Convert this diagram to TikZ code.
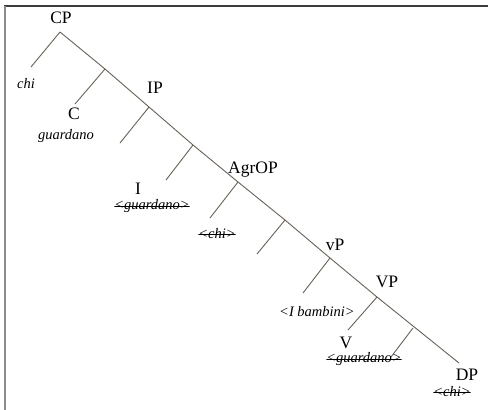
\documentclass[tikz,border=0pt]{standalone}
\usepackage{fontspec}
\setmainfont{Liberation Serif}
\definecolor{branch}{RGB}{105,98,88}
\tikzset{
  br/.style={draw=branch, line width=0.9pt},
  cat/.style={inner sep=0pt, font=\fontsize{17.5}{18}\selectfont},
  word/.style={inner sep=0pt, font=\fontsize{14.5}{15}\selectfont\itshape},
  struck/.style={path picture={\draw[line width=0.7pt] (path picture bounding box.west) -- (path picture bounding box.east);}},
}
\begin{document}
\begin{tikzpicture}[x=1pt,y=-1pt]
\useasboundingbox (0,0) rectangle (488,410);
\fill[white] (0,0) rectangle (488,410);
% frame
\draw[color={rgb,255:red,60;green,60;blue,60}, line width=1.6pt] (4,6) -- (488,6);
\draw[color={rgb,255:red,140;green,140;blue,140}, line width=2pt] (4.5,6) -- (4.5,410);
% spine
\coordinate (p0) at (60,32);
\coordinate (p1) at (105,69);
\coordinate (p2) at (149,107);
\coordinate (p3) at (193,145);
\coordinate (p4) at (238,182);
\coordinate (p5) at (285,220);
\coordinate (p6) at (330,258);
\coordinate (p7) at (377,297);
\coordinate (p8) at (459,363);
% branch ends
\coordinate (b0) at (31,67);
\coordinate (b1) at (75,104);
\coordinate (b2) at (120,143);
\coordinate (b3) at (166,180);
\coordinate (b4) at (210,218);
\coordinate (b5) at (257,254);
\coordinate (b6) at (303,293);
\coordinate (b7) at (348,330);
\coordinate (q) at (413,328);
\coordinate (b8) at (391,357);
\draw[br] (p0) -- (p1) -- (p2) -- (p3) -- (p4) -- (p5) -- (p6) -- (p7) -- (p8);
\draw[br] (p0) -- (b0);
\draw[br] (p1) -- (b1);
\draw[br] (p2) -- (b2);
\draw[br] (p3) -- (b3);
\draw[br] (p4) -- (b4);
\draw[br] (p5) -- (b5);
\draw[br] (p6) -- (b6);
\draw[br] (p7) -- (b7);
\draw[br] (q) -- (b8);
% labels
\node[cat] (cp) at (61,18) {CP};
\node[word] (chi1) at (26,84) {chi};
\node[cat] (c) at (74,114) {C};
\node[word] (g1) at (66,136) {guardano};
\node[cat] (ip) at (155,88) {IP};
\node[cat] (i) at (138,189) {I};
\node[word,struck] (g2) at (152,206) {<guardano>};
\node[cat] (agrop) at (253,170) {AgrOP};
\node[word,struck] (chi2) at (217,234) {<chi>};
\node[cat] (vp1) at (335,245) {vP};
\node[word] (ib) at (317,312) {<I bambini>};
\node[cat] (vp2) at (387,282) {VP};
\node[cat] (v) at (346,343) {V};
\node[word,struck] (g3) at (364,359) {<guardano>};
\node[cat] (dp) at (467,375) {DP};
\node[word,struck] (chi3) at (452,392) {<chi>};
\end{tikzpicture}
\end{document}
